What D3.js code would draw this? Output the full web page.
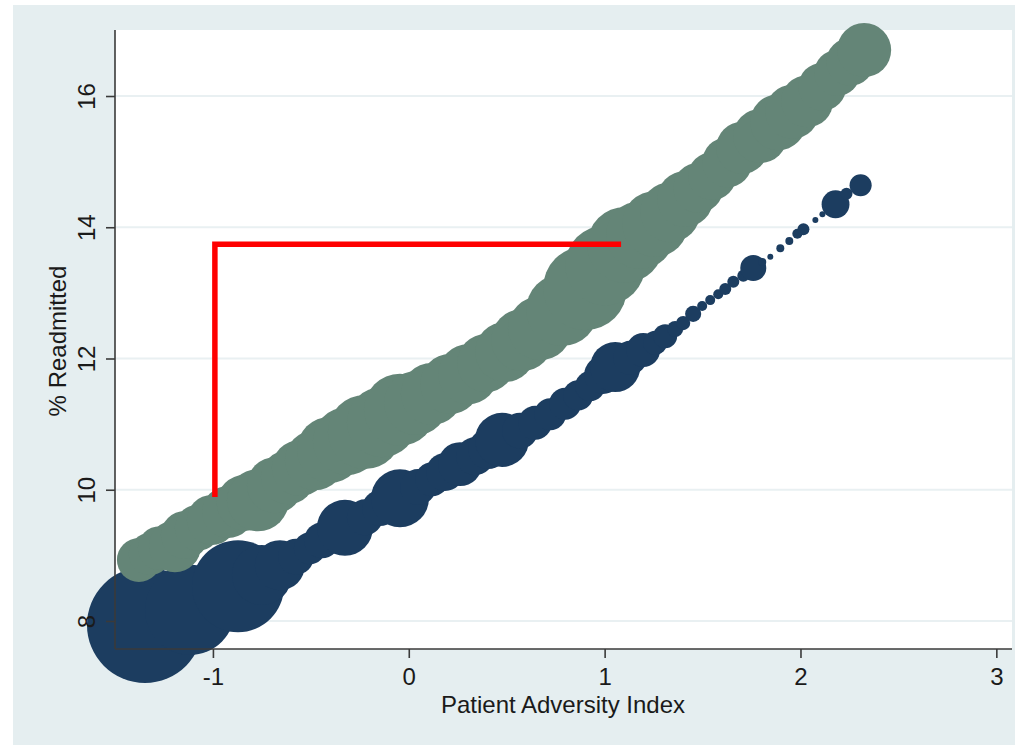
<!DOCTYPE html>
<html>
<head>
<meta charset="utf-8">
<script src="https://cdn.jsdelivr.net/npm/d3@7"></script>
<style>
  html, body { margin: 0; padding: 0; background: #fff; }
  text { font-family: "Liberation Sans", Arial, Helvetica, sans-serif; fill: #1a1a1a; }
</style>
</head>
<body>
<div class="chart-container"></div>
<script>
//! DATA
// upper (green) series: adversity index, % readmitted, weight (bubble size)
const greenX = [-1.378, -1.322, -1.271, -1.194, -1.143, -1.077, -1.005, -0.923, -0.837, -0.770,
  -0.683, -0.617, -0.556, -0.479, -0.402, -0.316, -0.224, -0.137, -0.045, 0.037,
  0.118, 0.211, 0.303, 0.395, 0.492, 0.579, 0.670, 0.783, 0.900, 1.003,
  1.105, 1.181, 1.258, 1.335, 1.411, 1.478, 1.549, 1.626, 1.702, 1.794,
  1.886, 1.958, 2.034, 2.111, 2.187, 2.254, 2.325]
const greenY = [8.93, 9.02, 9.11, 9.14, 9.31, 9.42, 9.54, 9.66, 9.80, 9.84,
  10.07, 10.19, 10.33, 10.45, 10.61, 10.74, 10.88, 11.03, 11.22, 11.32,
  11.46, 11.61, 11.76, 11.93, 12.10, 12.28, 12.46, 12.74, 13.07, 13.42,
  13.73, 13.88, 14.05, 14.23, 14.43, 14.60, 14.78, 14.99, 15.21, 15.39,
  15.60, 15.76, 15.92, 16.14, 16.35, 16.52, 16.70]
const greenN = [134, 123, 134, 188, 160, 147, 174, 188, 218, 267,
  218, 203, 218, 250, 303, 321, 380, 340, 360, 284,
  267, 250, 250, 234, 250, 267, 284, 360, 490, 444,
  401, 321, 303, 250, 218, 174, 160, 174, 188, 203,
  218, 203, 188, 160, 147, 160, 203]

// lower (navy) series
const navyX = [-1.347, -1.117, -0.872, -0.750, -0.658, -0.576, -0.505, -0.443, -0.326, -0.224,
  -0.147, -0.045, 0.047, 0.119, 0.185, 0.262, 0.338, 0.405, 0.476, 0.568,
  0.645, 0.722, 0.798, 0.865, 0.926, 0.992, 1.054, 1.130, 1.197, 1.258,
  1.309, 1.360, 1.401, 1.452, 1.498, 1.539, 1.580, 1.616, 1.657, 1.708,
  1.759, 1.805, 1.846, 1.897, 1.943, 1.984, 2.015, 2.076, 2.112, 2.179,
  2.235, 2.307]
const navyY = [7.94, 8.17, 8.53, 8.70, 8.85, 8.98, 9.11, 9.23, 9.42, 9.58,
  9.72, 9.87, 10.04, 10.16, 10.27, 10.39, 10.51, 10.62, 10.76, 10.90,
  11.02, 11.15, 11.31, 11.44, 11.58, 11.75, 11.87, 12.01, 12.13, 12.24,
  12.34, 12.45, 12.54, 12.68, 12.80, 12.89, 12.98, 13.06, 13.17, 13.26,
  13.38, 13.47, 13.55, 13.68, 13.79, 13.90, 13.97, 14.11, 14.20, 14.35,
  14.51, 14.64]
const navyN = [934, 563, 588, 250, 174, 90, 71, 90, 218, 90,
  90, 234, 90, 80, 100, 134, 100, 111, 203, 90,
  80, 71, 71, 63, 63, 100, 174, 80, 80, 40,
  40, 18, 14, 18, 7, 7, 7, 10, 10, 10,
  47, 4.4, 2.5, 4.4, 4.4, 7, 10, 2.5, 2.5, 54,
  10, 34]

// red annotation path
const redX = [-0.99, -0.99, 1.084]
const redY = [9.89, 13.74, 13.74]

const xTicks = [-1, 0, 1, 2, 3]
const yTicks = [8, 10, 12, 14, 16]

//! CONSTS
const width = 1015
const height = 745
const plot = { left: 115, right: 1012, top: 30, bottom: 649 }

//! SVG
const svg = d3.select('.chart-container')
  .append('svg')
  .attr('width', width)
  .attr('height', height)

svg.append('rect')
  .attr('x', 13).attr('y', 5)
  .attr('width', width - 13).attr('height', height - 5)
  .attr('fill', '#e5eef0')

svg.append('rect')
  .attr('x', plot.left).attr('y', plot.top)
  .attr('width', plot.right - plot.left).attr('height', plot.bottom - plot.top)
  .attr('fill', '#fff')

//! SCALES
const xScale = d3.scaleLinear().domain([-1.5, 3.08]).range([plot.left, plot.right])
const yScale = d3.scaleLinear().domain([7.573, 17.006]).range([plot.bottom, plot.top])
const rScale = d3.scaleSqrt().domain([0, 1000]).range([0, 60])

// grid
svg.append('g')
  .selectAll('line')
  .data(yTicks)
  .enter()
  .append('line')
  .attr('x1', plot.left).attr('x2', plot.right)
  .attr('y1', d => yScale(d)).attr('y2', d => yScale(d))
  .attr('stroke', '#e9f0f2')
  .attr('stroke-width', 2)

//! BUBBLES
const navy = navyX.map((x, i) => ({ x, y: navyY[i], n: navyN[i] }))
const green = greenX.map((x, i) => ({ x, y: greenY[i], n: greenN[i] }))

svg.append('g')
  .selectAll('circle')
  .data(navy)
  .enter()
  .append('circle')
  .attr('cx', d => xScale(d.x))
  .attr('cy', d => yScale(d.y))
  .attr('r', d => rScale(d.n))
  .attr('fill', '#1c3d60')

svg.append('g')
  .selectAll('circle')
  .data(green)
  .enter()
  .append('circle')
  .attr('cx', d => xScale(d.x))
  .attr('cy', d => yScale(d.y))
  .attr('r', d => rScale(d.n))
  .attr('fill', '#648577')

//! RED LINE
svg.append('path')
  .datum(redX.map((x, i) => [x, redY[i]]))
  .attr('d', d3.line().x(d => xScale(d[0])).y(d => yScale(d[1])))
  .attr('fill', 'none')
  .attr('stroke', '#ff0000')
  .attr('stroke-width', 5.5)
  .attr('stroke-linejoin', 'miter')

//! AXES
const xAxis = d3.axisBottom(xScale).tickValues(xTicks).tickSize(9).tickSizeOuter(0).tickFormat(d => String(d))
const yAxis = d3.axisLeft(yScale).tickValues(yTicks).tickSize(9).tickSizeOuter(0).tickFormat(d => String(d))

const gx = svg.append('g')
  .attr('transform', `translate(0,${plot.bottom})`)
  .call(xAxis)
gx.select('.domain').attr('d', `M${plot.left},0H${plot.right}`)
gx.selectAll('text')
  .attr('y', 36).attr('dy', 0)
  .style('font-size', '24px')

const gy = svg.append('g')
  .attr('transform', `translate(${plot.left},0)`)
  .call(yAxis)
gy.select('.domain').attr('d', `M0,${plot.bottom}V${plot.top}`)
gy.selectAll('.tick text')
  .attr('transform', 'rotate(-90)')
  .attr('x', 0).attr('y', -20).attr('dy', 0)
  .attr('text-anchor', 'middle')
  .style('font-size', '24px')

svg.selectAll('.domain, .tick line')
  .attr('stroke', '#3a3a3a')
  .attr('stroke-width', 1.6)
svg.selectAll('.tick text').attr('fill', '#1a1a1a').style('font-family', '"Liberation Sans", Arial, sans-serif')

//! TITLES
svg.append('text')
  .attr('x', 563).attr('y', 713)
  .attr('text-anchor', 'middle')
  .style('font-size', '24px')
  .text('Patient Adversity Index')

svg.append('text')
  .attr('transform', 'translate(66,341) rotate(-90)')
  .attr('text-anchor', 'middle')
  .style('font-size', '24px')
  .text('% Readmitted')
</script>
</body>
</html>
